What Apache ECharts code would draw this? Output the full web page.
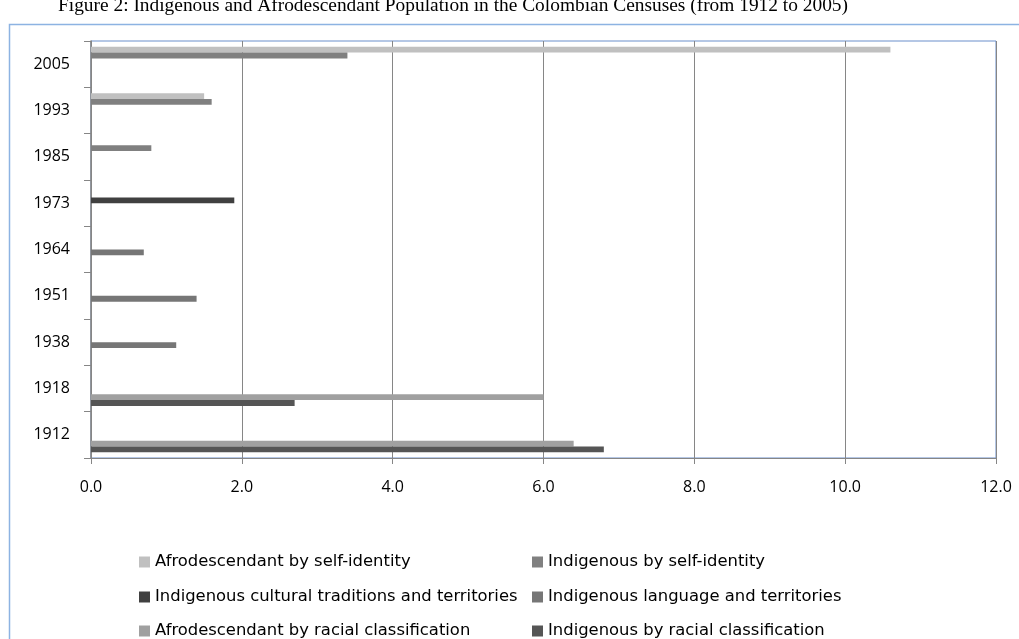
<!DOCTYPE html>
<html>
<head>
<meta charset="utf-8">
<title>Indigenous and Afrodescendant Population</title>
<script src="https://cdn.jsdelivr.net/npm/echarts/dist/echarts.min.js"></script>
<style>
    html, body { margin: 0; padding: 0; background: #fff; }
    #chart { width: 1019px; height: 639px; }
</style>
</head>
<body>
<div id="chart"></div>
<script>
// census years, bottom to top
var years = ['1912', '1918', '1938', '1951', '1964', '1973', '1985', '1993', '2005'];
var xTicks = [0, 2, 4, 6, 8, 10, 12];

// values per series (null = not measured that year)
var afroSelf = [null, null, null, null, null, null, null, 1.5, 10.6];
var indSelf = [null, null, null, null, null, null, 0.8, 1.6, 3.4];
var indCultural = [null, null, null, null, null, 1.9, null, null, null];
var indLanguage = [null, null, 1.13, 1.4, 0.7, null, null, null, null];
var afroRacial = [6.4, 6.0, null, null, null, null, null, null, null];
var indRacial = [6.8, 2.7, null, null, null, null, null, null, null];

var names = [
    'Afrodescendant by self-identity',
    'Indigenous by self-identity',
    'Indigenous cultural traditions and territories',
    'Indigenous language and territories',
    'Afrodescendant by racial classification',
    'Indigenous by racial classification'
];
var values = [afroSelf, indSelf, indCultural, indLanguage, afroRacial, indRacial];
var colors = ['#c0c0c0', '#808080', '#404040', '#767676', '#a0a0a0', '#555555'];

var axisFont = '"Open Sans", "Liberation Sans", sans-serif';
var legendFont = '"DejaVu Sans", "Open Sans", sans-serif';
var chart = echarts.init(document.getElementById('chart'));

var series = [];
for (var i = 0; i < names.length; i++) {
    series.push({
        name: names[i],
        type: 'bar',
        data: values[i],
        barGap: '0%',
        barCategoryGap: '25%',
        itemStyle: { color: colors[i] },
        emphasis: { disabled: true }
    });
}

// legend: two columns, three rows, one legend per entry
var legendCols = [134, 527];
var legendRows = [549, 584, 618];
var legends = [];
for (var j = 0; j < names.length; j++) {
    legends.push({
        left: legendCols[j % 2],
        top: legendRows[Math.floor(j / 2)],
        data: [names[j]],
        icon: 'rect',
        itemWidth: 11,
        itemHeight: 11,
        selectedMode: false,
        textStyle: { fontFamily: legendFont, fontSize: 16.4, color: '#000', lineHeight: 16 }
    });
}

var option = {
    backgroundColor: '#fff',
    animation: false,
    title: {
        text: 'Figure 2: Indigenous and Afrodescendant Population in the Colombian Censuses (from 1912 to 2005)',
        left: 448,
        textAlign: 'center',
        top: -9,
        textStyle: {
            fontFamily: '"Liberation Serif", "Times New Roman", serif',
            fontSize: 19.4,
            fontWeight: 'normal',
            color: '#000'
        }
    },
    // outer chart frame, cut off on the right and bottom
    graphic: [{
        type: 'rect',
        shape: { x: 9.5, y: 24.5, width: 1100, height: 700 },
        style: { fill: 'none', stroke: '#8db3e2', lineWidth: 1.5 },
        silent: true
    }],
    legend: legends,
    grid: {
        left: 91,
        right: 23,
        top: 41,
        bottom: 181,
        show: true,
        borderColor: '#6b8fcb',
        borderWidth: 1
    },
    xAxis: {
        type: 'value',
        min: xTicks[0],
        max: xTicks[xTicks.length - 1],
        interval: 2,
        axisLine: { show: true, lineStyle: { color: '#868686' } },
        axisTick: { show: true, length: 6, lineStyle: { color: '#868686' } },
        splitLine: { show: true, lineStyle: { color: '#868686', width: 1 } },
        axisLabel: {
            margin: 21,
            fontFamily: axisFont,
            fontSize: 16,
            color: '#000',
            formatter: function (v) { return v.toFixed(1); }
        }
    },
    yAxis: {
        type: 'category',
        data: years,
        axisLine: { show: true, lineStyle: { color: '#868686', width: 1.5 } },
        axisTick: { show: true, length: 7, lineStyle: { color: '#868686' } },
        splitLine: { show: false },
        axisLabel: {
            margin: 21,
            fontFamily: axisFont,
            fontSize: 16,
            color: '#000'
        }
    },
    series: series
};

chart.setOption(option);
</script>
</body>
</html>
